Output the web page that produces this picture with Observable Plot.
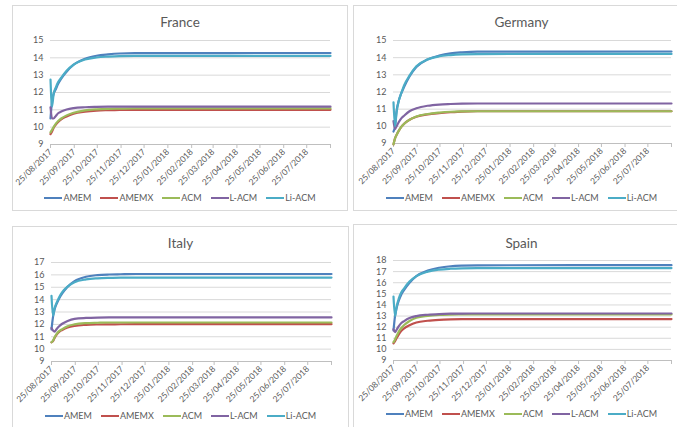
<!DOCTYPE html>
<html><head><meta charset="utf-8">
<script src="https://cdn.jsdelivr.net/npm/d3@7"></script>
<script src="https://cdn.jsdelivr.net/npm/@observablehq/plot@0.6"></script>
<style>
body{margin:0;background:#fff;font-family:Lato,"Liberation Sans",sans-serif;}
#root{position:relative;width:677px;height:427px;overflow:hidden;background:#fff;}
.panel{position:absolute;border:1px solid #D9D9D9;box-sizing:border-box;background:#fff;}
.title{position:absolute;left:0;right:0;text-align:center;font-size:13.5px;color:#595959;line-height:16px;}
.legend{position:absolute;left:0;right:0;display:flex;justify-content:center;gap:9px;font-size:9px;color:#595959;line-height:12px;}
.item{display:flex;align-items:center;gap:1px;}
.sw{display:inline-block;width:18px;height:2.5px;}
.chart{position:absolute;left:0;top:0;overflow:visible;}
</style>
</head><body><div id="root"></div>
<script>
// ---- data ----
const seriesNames = ["AMEM", "AMEMX", "ACM", "L-ACM", "Li-ACM"];
const seriesColors = ["#4F81BD", "#C0504D", "#9BBB59", "#8064A2", "#4BACC6"];
const tickLabels = ["25/08/2017","25/09/2017","25/10/2017","25/11/2017","25/12/2017","25/01/2018",
  "25/02/2018","25/03/2018","25/04/2018","25/05/2018","25/06/2018","25/07/2018",""];
const tickDateStrings = ["2017-08-25","2017-09-25","2017-10-25","2017-11-25","2017-12-25","2018-01-25",
  "2018-02-25","2018-03-25","2018-04-25","2018-05-25","2018-06-25","2018-07-25","2018-08-25"];
const dayOffsets = [0, 2, 4, 7, 10, 14, 21, 30, 45, 60, 75, 90, 110, 365];

const franceAMEM  = [10.5, 11.5, 11.9, 12.2, 12.5, 12.8, 13.2, 13.6, 13.95, 14.12, 14.2, 14.25, 14.27, 14.28];
const franceAMEMX = [9.6, 9.75, 9.95, 10.15, 10.3, 10.45, 10.62, 10.78, 10.9, 10.96, 10.98, 10.99, 11.0, 11.0];
const franceACM   = [9.7, 9.85, 10.0, 10.2, 10.35, 10.5, 10.68, 10.83, 10.97, 11.03, 11.06, 11.07, 11.08, 11.08];
const franceLACM  = [11.15, 10.5, 10.5, 10.65, 10.8, 10.9, 11.02, 11.1, 11.15, 11.17, 11.18, 11.18, 11.18, 11.18];
const franceLiACM = [12.75, 11.2, 11.9, 12.3, 12.6, 12.85, 13.25, 13.6, 13.9, 14.02, 14.07, 14.1, 14.11, 14.11];

const germanyAMEM  = [9.7, 10.0, 10.9, 11.5, 11.9, 12.3, 12.9, 13.45, 13.9, 14.12, 14.25, 14.31, 14.35, 14.36];
const germanyAMEMX = [8.95, 9.3, 9.5, 9.75, 9.95, 10.15, 10.38, 10.56, 10.7, 10.77, 10.82, 10.86, 10.88, 10.88];
const germanyACM   = [8.95, 9.3, 9.5, 9.75, 9.95, 10.15, 10.38, 10.57, 10.72, 10.8, 10.85, 10.87, 10.88, 10.88];
const germanyLACM  = [10.3, 9.85, 10.0, 10.25, 10.45, 10.62, 10.88, 11.05, 11.2, 11.27, 11.3, 11.32, 11.33, 11.33];
const germanyLiACM = [11.4, 10.0, 10.8, 11.5, 11.9, 12.4, 12.95, 13.5, 13.9, 14.08, 14.15, 14.19, 14.21, 14.22];

const italyAMEM  = [11.6, 12.6, 13.2, 13.7, 14.1, 14.5, 15.05, 15.5, 15.85, 15.98, 16.03, 16.05, 16.07, 16.07];
const italyAMEMX = [10.55, 10.65, 10.9, 11.2, 11.4, 11.55, 11.75, 11.88, 11.96, 11.99, 12.0, 12.01, 12.02, 12.02];
const italyACM   = [10.55, 10.7, 10.95, 11.25, 11.45, 11.62, 11.85, 12.0, 12.1, 12.13, 12.15, 12.15, 12.15, 12.15];
const italyLACM  = [11.7, 11.5, 11.42, 11.65, 11.85, 12.05, 12.28, 12.45, 12.52, 12.55, 12.56, 12.56, 12.56, 12.56];
const italyLiACM = [14.3, 12.7, 13.3, 13.8, 14.2, 14.6, 15.05, 15.4, 15.63, 15.72, 15.76, 15.78, 15.78, 15.78];

const spainAMEM  = [11.7, 13.0, 13.7, 14.4, 14.9, 15.35, 16.0, 16.6, 17.1, 17.35, 17.48, 17.54, 17.57, 17.58];
const spainAMEMX = [10.55, 10.75, 11.0, 11.35, 11.65, 11.9, 12.18, 12.42, 12.58, 12.66, 12.7, 12.72, 12.73, 12.73];
const spainACM   = [10.65, 10.9, 11.2, 11.6, 11.9, 12.2, 12.55, 12.85, 13.02, 13.1, 13.13, 13.14, 13.15, 13.15];
const spainLACM  = [11.8, 11.55, 11.75, 12.1, 12.35, 12.55, 12.82, 13.0, 13.12, 13.18, 13.21, 13.22, 13.23, 13.23];
const spainLiACM = [14.75, 13.0, 13.8, 14.6, 15.1, 15.5, 16.1, 16.6, 17.0, 17.18, 17.26, 17.3, 17.32, 17.32];

const yTicksFrance = [9, 10, 11, 12, 13, 14, 15];
const yTicksGermany = [9, 10, 11, 12, 13, 14, 15];
const yTicksItaly = [9, 10, 11, 12, 13, 14, 15, 16, 17];
const yTicksSpain = [9, 10, 11, 12, 13, 14, 15, 16, 17, 18];

// ---- build ----
const tickDates = tickDateStrings.map(s => new Date(s + "T00:00:00Z"));
const labelByTime = new Map(tickDates.map((d, i) => [+d, tickLabels[i]]));
const start = tickDates[0];
const dayMs = 86400000;

function rows(values) {
  const out = [];
  values.forEach((vals, si) => vals.forEach((v, i) => out.push({
    series: seriesNames[si], date: new Date(+start + dayOffsets[i] * dayMs), value: v
  })));
  return out;
}

const panels = [
  {title: "France", values: [franceAMEM, franceAMEMX, franceACM, franceLACM, franceLiACM], yTicks: yTicksFrance,
   left: 12, top: 5, w: 336, h: 206, ml: 37, mr: 17, mt: 34, pb: 138, titleTop: 8, legendTop: 186},
  {title: "Germany", values: [germanyAMEM, germanyAMEMX, germanyACM, germanyLACM, germanyLiACM], yTicks: yTicksGermany,
   left: 353, top: 5, w: 337, h: 206, ml: 39, mr: 18, mt: 34, pb: 137, titleTop: 8, legendTop: 186},
  {title: "Italy", values: [italyAMEM, italyAMEMX, italyACM, italyLACM, italyLiACM], yTicks: yTicksItaly,
   left: 12, top: 226, w: 337, h: 210, ml: 38, mr: 17, mt: 35, pb: 134, titleTop: 8, legendTop: 183},
  {title: "Spain", values: [spainAMEM, spainAMEMX, spainACM, spainLACM, spainLiACM], yTicks: yTicksSpain,
   left: 353, top: 224, w: 337, h: 210, ml: 39, mr: 18, mt: 35, pb: 135, titleTop: 10, legendTop: 183},
];

const root = document.getElementById("root");
for (const p of panels) {
  const div = document.createElement("div");
  div.className = "panel";
  Object.assign(div.style, {left: p.left + "px", top: p.top + "px", width: p.w + "px", height: p.h + "px"});
  const svgH = 185;
  const yMin = p.yTicks[0], yMax = p.yTicks[p.yTicks.length - 1];
  const chart = Plot.plot({
    width: p.w - 2, height: svgH,
    marginLeft: p.ml, marginRight: p.mr, marginTop: p.mt, marginBottom: svgH - p.pb,
    style: {fontFamily: "Lato, 'Liberation Sans', sans-serif", fontSize: "8.5px", color: "#595959", background: "transparent", overflow: "visible"},
    x: {type: "utc", domain: [tickDates[0], tickDates[tickDates.length - 1]]},
    y: {domain: [yMin, yMax]},
    color: {domain: seriesNames, range: seriesColors},
    marks: [
      Plot.gridY(p.yTicks, {stroke: "#D9D9D9", strokeOpacity: 1}),
      Plot.ruleY([yMin], {stroke: "#BFBFBF"}),
      Plot.axisY({ticks: p.yTicks, tickFormat: d => String(d), tickSize: 0, tickPadding: 7, label: null, fill: "#595959", fontSize: 9}),
      Plot.axisX({ticks: tickDates, tickFormat: d => labelByTime.get(+d) ?? "", tickRotate: -45,
                  tickSize: 4, tickPadding: 2, label: null, stroke: "#BFBFBF", fill: "#595959"}),
      Plot.line(rows(p.values), {x: "date", y: "value", z: "series", stroke: "series", strokeWidth: 2.2, curve: "monotone-x"})
    ]
  });
  chart.classList.add("chart");
  chart.style.position = "absolute"; chart.style.left = "0px"; chart.style.top = "0px";
  div.appendChild(chart);
  const t = document.createElement("div");
  t.className = "title"; t.style.top = p.titleTop + "px"; t.textContent = p.title;
  div.appendChild(t);
  const lg = document.createElement("div");
  lg.className = "legend"; lg.style.top = p.legendTop + "px";
  seriesNames.forEach((n, i) => {
    const it = document.createElement("div"); it.className = "item";
    const sw = document.createElement("span"); sw.className = "sw"; sw.style.background = seriesColors[i];
    const tx = document.createElement("span"); tx.textContent = n;
    it.appendChild(sw); it.appendChild(tx); lg.appendChild(it);
  });
  div.appendChild(lg);
  root.appendChild(div);
}
</script>
</body></html>
